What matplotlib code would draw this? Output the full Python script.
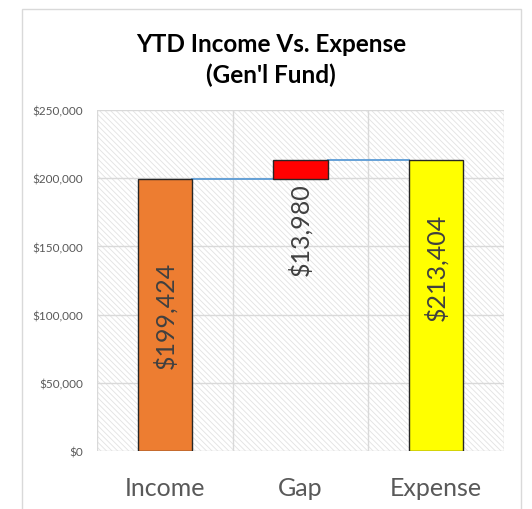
import matplotlib.pyplot as plt
from matplotlib.patches import Rectangle
from matplotlib.ticker import FuncFormatter

plt.rcParams['font.family'] = ['Lato', 'DejaVu Sans']
plt.rcParams['hatch.linewidth'] = 0.6

categories = ['Income', 'Gap', 'Expense']
income = 199424
expense = 213404
gap = expense - income
bar_bottoms = [0, income, 0]
bar_heights = [income, gap, expense]
bar_labels = ['$199,424', '$13,980', '$213,404']
bar_colors = ['#ed7d31', '#ff0000', '#ffff00']
label_y = [100000, 163000, 135000]

fig = plt.figure(figsize=(5.32, 5.10), dpi=100)
fig.patches.append(Rectangle((22 / 532, -0.05), (521 - 22) / 532, 1 - 10 / 510 + 0.05,
                             transform=fig.transFigure, fill=False,
                             edgecolor='#d9d9d9', linewidth=1))
ax = fig.add_axes([97 / 532, 1 - 452 / 510, (504 - 97) / 532, (452 - 111) / 510])

ax.set_xlim(-0.5, 2.5)
ax.set_ylim(0, 250000)

# hatched plot area
ax.add_patch(Rectangle((0, 0), 1, 1, transform=ax.transAxes, facecolor='white',
                       edgecolor='#e2e2e2', hatch='\\\\\\\\\\\\', linewidth=0, zorder=0))

for y in range(0, 250001, 50000):
    ax.axhline(y, color='#d9d9d9', linewidth=1, zorder=1)
for x in [-0.5, 0.5, 1.5, 2.5]:
    ax.axvline(x, color='#d9d9d9', linewidth=1, zorder=1)

x = range(len(categories))
ax.bar(x, bar_heights, bottom=bar_bottoms, width=0.4, color=bar_colors,
       edgecolor='#262626', linewidth=1, zorder=3)

# connector lines
ax.plot([0.2, 0.8], [income, income], color='#5b9bd5', linewidth=1.3, zorder=2)
ax.plot([1.2, 1.8], [expense, expense], color='#5b9bd5', linewidth=1.3, zorder=2)

for i, lab in enumerate(bar_labels):
    ax.text(i, label_y[i], lab, rotation=90, ha='center', va='center',
            fontsize=18, color='#404040', zorder=4)

ax.set_xticks(list(x))
ax.set_xticklabels(categories, fontsize=18, color='#595959')
ax.set_yticks(range(0, 250001, 50000))
ax.yaxis.set_major_formatter(FuncFormatter(lambda v, p: '${:,.0f}'.format(v)))
ax.tick_params(axis='y', labelsize=8.5, labelcolor='#595959', length=0, pad=10)
ax.tick_params(axis='x', length=0, pad=18)
for s in ax.spines.values():
    s.set_visible(False)

fig.text(271 / 532, 1 - 60 / 510, "YTD Income Vs. Expense\n(Gen'l Fund)", ha='center',
         va='center', fontsize=17.5, fontweight='bold', color='black', linespacing=1.4)

fig.savefig('out.png', dpi=100)
